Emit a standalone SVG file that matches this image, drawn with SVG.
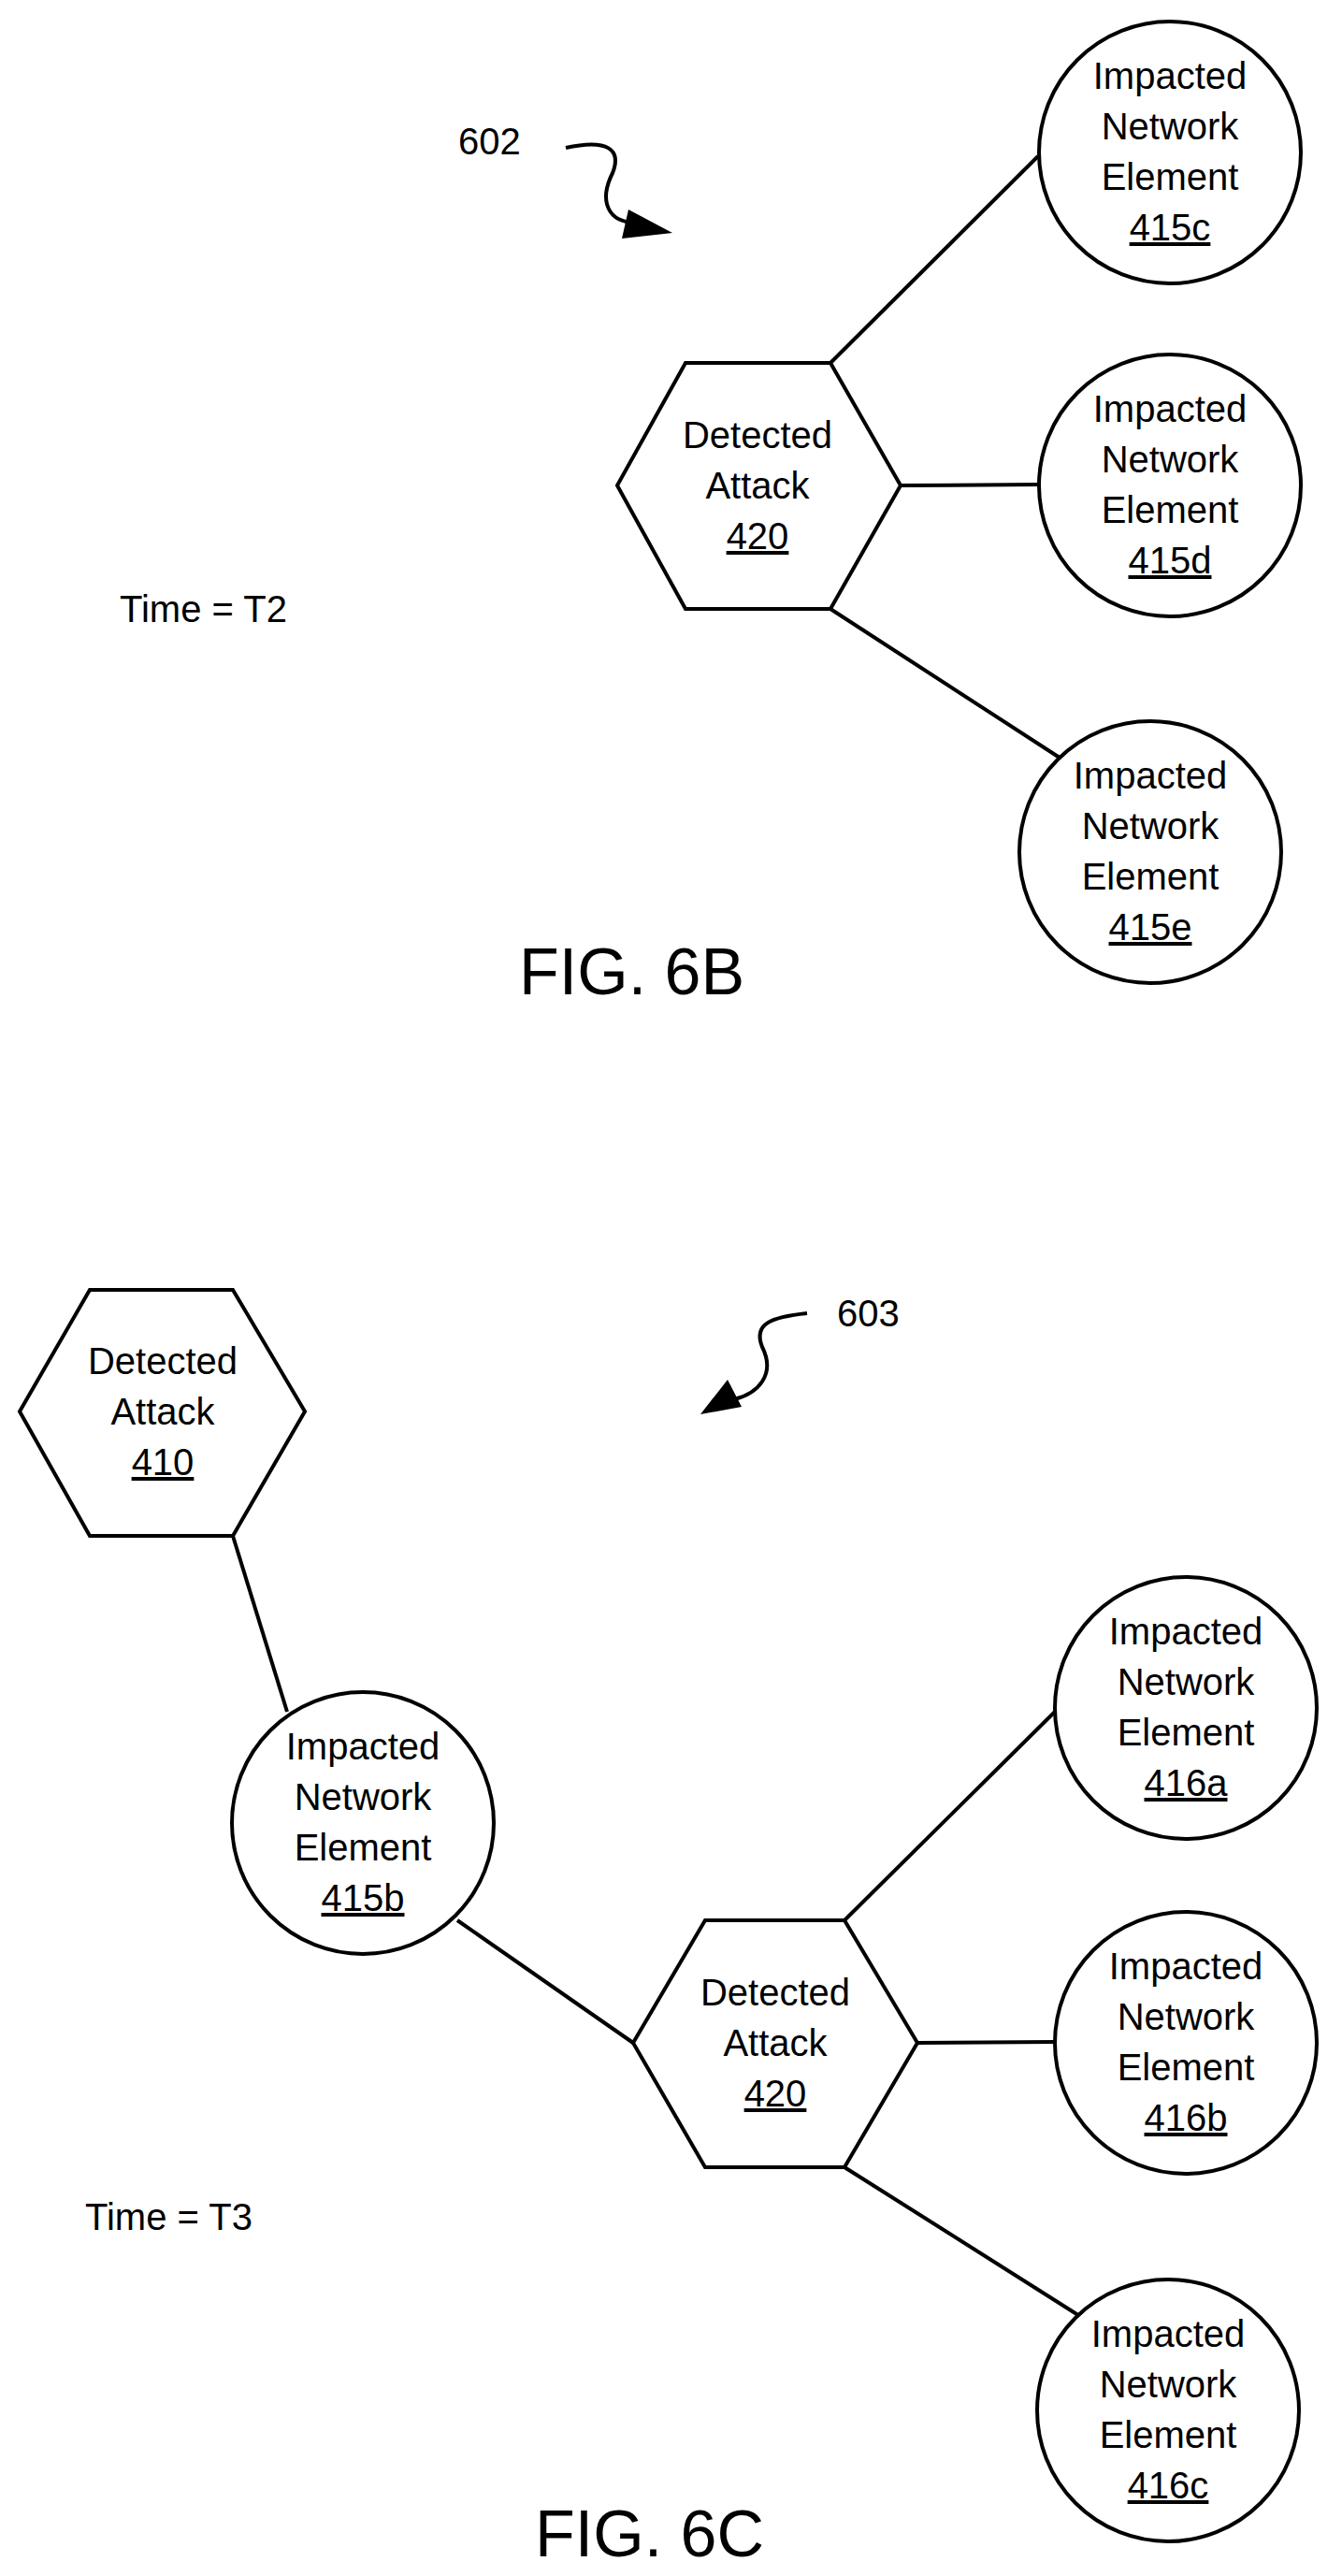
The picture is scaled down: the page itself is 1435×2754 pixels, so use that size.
<svg xmlns="http://www.w3.org/2000/svg" width="1435" height="2754" viewBox="0 0 1435 2754">
<style>
.s{fill:#fff;stroke:#000;stroke-width:4}
.l{stroke:#000;stroke-width:4;fill:none}
text{font-family:"Liberation Sans",Arial,sans-serif;font-size:40px;fill:#000}
.c{text-anchor:middle}
.u{text-decoration:underline}
.f{font-size:70px}
</style>
<defs>
<marker id="ah" markerWidth="10" markerHeight="8" refX="9" refY="4" orient="auto" markerUnits="userSpaceOnUse" viewBox="0 0 10 8"><path d="M0,0 L10,4 L0,8 z"/></marker>
</defs>
<rect width="1435" height="2754" fill="#fff"/>
<g id="connectors">
<line class="l" x1="888" y1="388" x2="1110" y2="167"/>
<line class="l" x1="963" y1="519" x2="1111" y2="518"/>
<line class="l" x1="888" y1="651" x2="1133" y2="810"/>
<line class="l" x1="249" y1="1642" x2="307" y2="1830"/>
<line class="l" x1="489" y1="2053" x2="677" y2="2184"/>
<line class="l" x1="903" y1="2053" x2="1128" y2="1830"/>
<line class="l" x1="981" y1="2184" x2="1128" y2="2183"/>
<line class="l" x1="903" y1="2317" x2="1156" y2="2477"/>
<path class="l" d="M605,158 C650,148 665,160 655,185 C640,215 650,238 680,238" />
<polygon points="719,249 672,224 665,255"/>
<path class="l" d="M863,1404 C825,1408 805,1415 815,1440 C830,1470 810,1490 785,1496"/>
<polygon points="749,1512 778,1475 793,1504"/>
</g>
<g id="label602"><text x="490" y="165">602</text></g>
<g id="t2"><text x="128" y="665" font-size="38">Time = T2</text></g>
<g id="fig6b"><text class="f" x="555" y="1063">FIG. 6B</text></g>
<g id="h420b">
<polygon class="s" points="660,519 733,388 888,388 963,519 888,651 733,651"/>
<text class="c" x="810" y="479">Detected</text><text class="c" x="810" y="533">Attack</text><text class="c u" x="810" y="587">420</text>
</g>
<g id="n415c"><circle class="s" cx="1251" cy="163" r="140"/>
<text class="c" x="1251" y="95">Impacted</text><text class="c" x="1251" y="149">Network</text><text class="c" x="1251" y="203">Element</text><text class="c u" x="1251" y="257">415c</text></g>
<g id="n415d"><circle class="s" cx="1251" cy="519" r="140"/>
<text class="c" x="1251" y="451">Impacted</text><text class="c" x="1251" y="505">Network</text><text class="c" x="1251" y="559">Element</text><text class="c u" x="1251" y="613">415d</text></g>
<g id="n415e"><circle class="s" cx="1230" cy="911" r="140"/>
<text class="c" x="1230" y="843">Impacted</text><text class="c" x="1230" y="897">Network</text><text class="c" x="1230" y="951">Element</text><text class="c u" x="1230" y="1005">415e</text></g>

<g id="label603"><text x="895" y="1418">603</text></g>
<g id="t3"><text x="91" y="2384" font-size="38">Time = T3</text></g>
<g id="fig6c"><text class="f" x="572" y="2733">FIG. 6C</text></g>
<g id="h410">
<polygon class="s" points="21,1509 96,1379 249,1379 326,1509 249,1642 96,1642"/>
<text class="c" x="174" y="1469">Detected</text><text class="c" x="174" y="1523">Attack</text><text class="c u" x="174" y="1577">410</text>
</g>
<g id="n415b"><circle class="s" cx="388" cy="1949" r="140"/>
<text class="c" x="388" y="1881">Impacted</text><text class="c" x="388" y="1935">Network</text><text class="c" x="388" y="1989">Element</text><text class="c u" x="388" y="2043">415b</text></g>
<g id="h420c">
<polygon class="s" points="677,2184 754,2053 903,2053 981,2184 903,2317 754,2317"/>
<text class="c" x="829" y="2144">Detected</text><text class="c" x="829" y="2198">Attack</text><text class="c u" x="829" y="2252">420</text>
</g>
<g id="n416a"><circle class="s" cx="1268" cy="1826" r="140"/>
<text class="c" x="1268" y="1758">Impacted</text><text class="c" x="1268" y="1812">Network</text><text class="c" x="1268" y="1866">Element</text><text class="c u" x="1268" y="1920">416a</text></g>
<g id="n416b"><circle class="s" cx="1268" cy="2184" r="140"/>
<text class="c" x="1268" y="2116">Impacted</text><text class="c" x="1268" y="2170">Network</text><text class="c" x="1268" y="2224">Element</text><text class="c u" x="1268" y="2278">416b</text></g>
<g id="n416c"><circle class="s" cx="1249" cy="2577" r="140"/>
<text class="c" x="1249" y="2509">Impacted</text><text class="c" x="1249" y="2563">Network</text><text class="c" x="1249" y="2617">Element</text><text class="c u" x="1249" y="2671">416c</text></g>
</svg>
